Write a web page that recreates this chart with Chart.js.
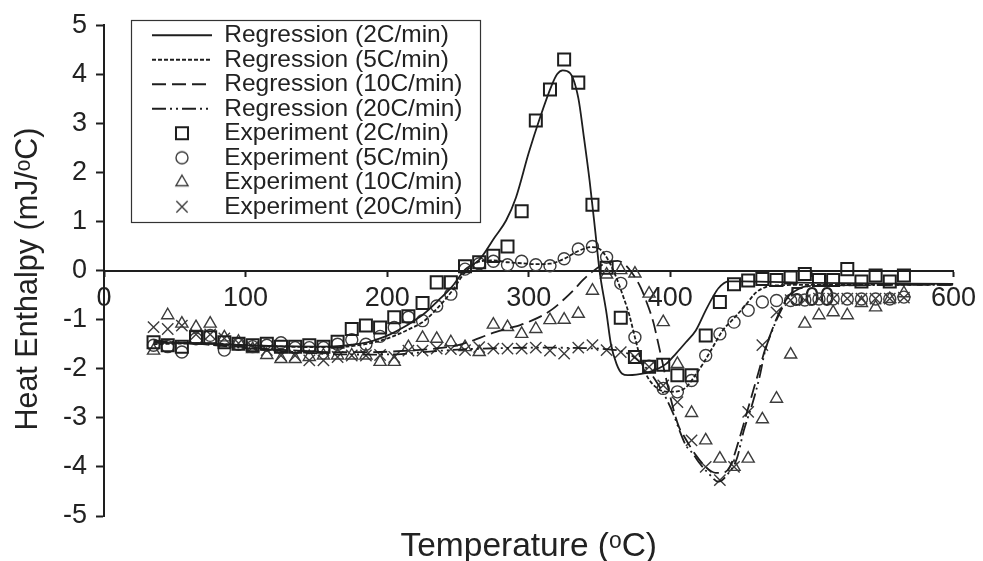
<!DOCTYPE html>
<html>
<head>
<meta charset="utf-8">
<script src="https://cdn.jsdelivr.net/npm/chart.js@4.4.1/dist/chart.umd.min.js"></script>
<style>
  html, body { margin: 0; padding: 0; background: #fff; }
  #wrap { width: 983px; height: 561px; }
</style>
</head>
<body>
<div id="wrap"><canvas id="c" width="983" height="561"></canvas></div>
<script>
// Temperatures (°C) at which the calorimeter readings were taken
const expTemps = [35, 45, 55, 65, 75, 85, 95, 105, 115, 125,
  135, 145, 155, 165, 175, 185, 195, 205, 215, 225,
  235, 245, 255, 265, 275, 285, 295, 305, 315, 325,
  335, 345, 355, 365, 375, 385, 395, 405, 415, 425,
  435, 445, 455, 465, 475, 485, 495, 505, 515, 525,
  535, 545, 555, 565];

// Measured heat enthalpy (mJ/°C) per heating rate
const exp2C = [-1.46, -1.52, -1.55, -1.36, -1.36, -1.46, -1.49, -1.52, -1.49, -1.55,
  -1.55, -1.52, -1.55, -1.45, -1.19, -1.12, -1.16, -0.95, -0.93, -0.66,
  -0.24, -0.24, 0.09, 0.17, 0.30, 0.49, 1.21, 3.06, 3.69, 4.30,
  3.83, 1.34, 0.06, -0.96, -1.76, -1.96, -1.92, -2.13, -2.13, -1.32,
  -0.64, -0.28, -0.20, -0.17, -0.19, -0.14, -0.07, -0.19, -0.19, 0.03,
  -0.22, -0.10, -0.22, -0.10];
const exp5C = [-1.52, -1.55, -1.66, -1.39, -1.32, -1.62, -1.50, -1.55, -1.52, -1.47,
  -1.57, -1.57, -1.57, -1.50, -1.41, -1.50, -1.34, -1.16, -0.95, -1.02,
  -0.72, -0.48, 0.03, 0.14, 0.19, 0.12, 0.19, 0.12, 0.10, 0.24,
  0.44, 0.49, 0.27, -0.26, -1.36, -1.95, -2.40, -2.47, -2.24, -1.73,
  -1.29, -1.05, -0.81, -0.64, -0.61, -0.61, -0.60, -0.58, -0.58, -0.58,
  -0.58, -0.58, -0.58, -0.54];
const exp10C = [-1.63, -0.91, -1.08, -1.15, -1.08, -1.36, -1.45, -1.60, -1.72, -1.80,
  -1.80, -1.76, -1.73, -1.73, -1.73, -1.73, -1.86, -1.86, -1.56, -1.37,
  -1.39, -1.46, -1.56, -1.66, -1.10, -1.15, -1.29, -1.19, -1.01, -1.00,
  -0.88, -0.41, -0.08, 0.01, -0.06, -0.47, -1.05, -1.90, -2.90, -3.46,
  -3.83, -4.00, -3.83, -3.03, -2.61, -1.71, -1.08, -0.91, -0.85, -0.91,
  -0.66, -0.75, -0.58, -0.46];
const exp20C = [-1.15, -1.19, -1.12, -1.30, -1.30, -1.38, -1.48, -1.56, -1.62, -1.73,
  -1.73, -1.83, -1.83, -1.76, -1.73, -1.73, -1.72, -1.76, -1.63, -1.63,
  -1.59, -1.60, -1.62, -1.56, -1.59, -1.59, -1.59, -1.57, -1.63, -1.69,
  -1.57, -1.52, -1.62, -1.66, -1.76, -1.96, -2.34, -2.68, -3.46, -4.00,
  -4.27, -4.00, -2.88, -1.52, -0.85, -0.60, -0.60, -0.57, -0.57, -0.57,
  -0.57, -0.57, -0.57, -0.55];

// Regression curves: temperature knots and fitted enthalpy
const reg2CT = [35, 60, 90, 120, 150, 165, 175, 186, 195, 202, 210, 218, 226, 236, 246, 255, 265, 276, 284, 291, 300, 308, 316, 320, 324, 329, 335, 339, 343, 347, 350, 355, 358, 362, 366, 370, 376, 387, 397, 404, 411, 418, 425, 430, 434, 441, 450, 500, 600];
const reg2CV = [-1.47, -1.48, -1.51, -1.54, -1.55, -1.54, -1.51, -1.46, -1.38, -1.30, -1.18, -1.04, -0.88, -0.61, -0.32, 0.02, 0.22, 0.68, 1.02, 1.49, 2.40, 3.12, 3.76, 4.00, 4.08, 4.03, 3.52, 2.71, 1.83, 0.80, 0.00, -0.88, -1.49, -1.90, -2.10, -2.13, -2.12, -2.05, -1.90, -1.69, -1.46, -1.22, -0.81, -0.54, -0.36, -0.22, -0.22, -0.25, -0.27];

const reg5CT = [35, 70, 100, 130, 160, 180, 195, 205, 215, 226, 236, 246, 254, 260, 266, 275, 285, 295, 305, 315, 325, 335, 345, 351, 357, 362, 367, 371, 375, 379, 383, 390, 398, 405, 411, 416, 423, 430, 437, 444, 453, 460, 467, 476, 500, 600];
const reg5CV = [-1.50, -1.48, -1.52, -1.55, -1.56, -1.52, -1.43, -1.33, -1.20, -1.03, -0.75, -0.41, -0.07, 0.10, 0.19, 0.21, 0.17, 0.15, 0.13, 0.14, 0.24, 0.40, 0.48, 0.42, 0.17, -0.15, -0.55, -0.90, -1.36, -1.80, -2.12, -2.38, -2.47, -2.46, -2.38, -2.20, -1.90, -1.56, -1.22, -1.00, -0.71, -0.46, -0.34, -0.30, -0.29, -0.28];

const reg10CT = [35, 70, 100, 130, 160, 190, 220, 240, 250, 261, 270, 277, 285, 294, 302, 310, 317, 324, 331, 338, 345, 352, 358, 363, 368, 373, 379, 384, 388, 392, 397, 403, 406, 410, 418, 425, 432, 437, 442, 448, 455, 462, 467, 472, 477, 484, 491, 500, 600];
const reg10CV = [-1.45, -1.50, -1.56, -1.62, -1.66, -1.66, -1.62, -1.57, -1.52, -1.42, -1.32, -1.25, -1.18, -1.11, -1.02, -0.91, -0.78, -0.61, -0.42, -0.20, -0.02, 0.12, 0.19, 0.20, 0.12, -0.05, -0.34, -0.70, -1.05, -1.55, -2.20, -2.91, -3.18, -3.39, -3.76, -4.00, -4.12, -4.12, -4.00, -3.50, -2.80, -2.10, -1.60, -1.20, -0.85, -0.50, -0.36, -0.31, -0.29];

const reg20CT = [35, 70, 100, 130, 160, 190, 210, 230, 250, 280, 310, 340, 355, 365, 372, 378, 385, 391, 397, 402, 406, 411, 416, 420, 427, 434, 441, 447, 452, 458, 463, 467, 472, 477, 484, 491, 500, 600];
const reg20CV = [-1.42, -1.50, -1.58, -1.65, -1.70, -1.71, -1.70, -1.65, -1.61, -1.58, -1.57, -1.58, -1.60, -1.64, -1.72, -1.85, -2.05, -2.30, -2.60, -2.91, -3.22, -3.56, -3.73, -3.90, -4.13, -4.30, -4.13, -3.83, -3.25, -2.71, -2.17, -1.63, -1.22, -0.88, -0.52, -0.37, -0.31, -0.29];

// Axis ticks
const xTicks = [0, 100, 200, 300, 400, 500, 600];
const yTicks = [-5, -4, -3, -2, -1, 0, 1, 2, 3, 4, 5];

const seriesNames = ['Regression (2C/min)', 'Regression (5C/min)', 'Regression (10C/min)', 'Regression (20C/min)',
  'Experiment (2C/min)', 'Experiment (5C/min)', 'Experiment (10C/min)', 'Experiment (20C/min)'];

const FONT = "'Liberation Sans', Arial, Helvetica, 'DejaVu Sans', sans-serif";
const INK = '#1e1e1e';
const GREY = '#3c3c3c';

const pairs = (xs, ys) => xs.map((t, i) => ({ x: t, y: ys[i] }));

const dashes = [[], [4, 2], [14, 6], [14, 4, 2, 4, 2, 4]];
const regT = [reg2CT, reg5CT, reg10CT, reg20CT];
const regV = [reg2CV, reg5CV, reg10CV, reg20CV];

const markers = [
  { style: 'rect', radius: 8.5, color: INK, width: 2 },
  { style: 'circle', radius: 6, color: GREY, width: 1.4 },
  { style: 'triangle', radius: 7, color: GREY, width: 1.4 },
  { style: 'crossRot', radius: 8, color: GREY, width: 1.4 }
];
const expV = [exp2C, exp5C, exp10C, exp20C];

const datasets = [];
for (let k = 0; k < 4; k++) {
  datasets.push({
    label: seriesNames[k],
    data: pairs(regT[k], regV[k]),
    showLine: true,
    borderColor: INK,
    borderWidth: 1.8,
    borderDash: dashes[k],
    pointRadius: 0,
    pointHoverRadius: 0,
    cubicInterpolationMode: 'monotone',
    fill: false
  });
}
for (let k = 0; k < 4; k++) {
  const m = markers[k];
  datasets.push({
    label: seriesNames[4 + k],
    data: pairs(expTemps, expV[k]),
    showLine: false,
    pointStyle: m.style,
    pointRadius: m.radius,
    pointHoverRadius: m.radius,
    pointBorderWidth: m.width,
    pointBorderColor: m.color,
    pointBackgroundColor: 'rgba(0,0,0,0)'
  });
}

// Legend symbols rendered to small canvases so lines and markers share one legend
function lineIcon(dash) {
  const c = document.createElement('canvas');
  c.width = 60; c.height = 8;
  const g = c.getContext('2d');
  g.strokeStyle = INK; g.lineWidth = 2.2; g.setLineDash(dash);
  g.beginPath(); g.moveTo(0, 4); g.lineTo(60, 4); g.stroke();
  return c;
}
function markIcon(m) {
  const c = document.createElement('canvas');
  c.width = 24; c.height = 24;
  const g = c.getContext('2d');
  g.strokeStyle = m.color; g.fillStyle = 'rgba(0,0,0,0)'; g.lineWidth = m.width;
  Chart.helpers.drawPoint(g, { pointStyle: m.style, radius: m.radius, borderWidth: m.width, rotation: 0 }, 12, 12);
  return c;
}
const legendIcons = dashes.map(lineIcon).concat(markers.map(markIcon));

const LEGEND_FONT = 24.5, LEGEND_PAD = 0;

// Places the legend in the upper-left of the plot and draws its frame
const legendFrame = {
  id: 'legendFrame',
  beforeDraw(chart) {
    const lg = chart.legend;
    if (!lg) return;
    lg.left = 152; lg.top = 23;
    lg.right = lg.left + lg.width; lg.bottom = lg.top + 1000;
    const rows = lg.legendItems.length;
    const x0 = lg.left - 21, y0 = lg.top - 3;
    const x1 = lg.left + lg.width + 7;
    const y1 = lg.top + LEGEND_PAD + rows * (LEGEND_FONT + LEGEND_PAD) + 3;
    const ctx = chart.ctx;
    ctx.save();
    ctx.strokeStyle = '#333';
    ctx.lineWidth = 1.2;
    ctx.strokeRect(Math.round(x0) + 0.5, Math.round(y0) + 0.5, Math.round(x1 - x0), Math.round(y1 - y0));
    ctx.restore();
  }
};

new Chart(document.getElementById('c'), {
  type: 'scatter',
  data: { datasets },
  plugins: [legendFrame],
  options: {
    responsive: false,
    animation: false,
    devicePixelRatio: 1,
    layout: { padding: { left: 0, right: 28, top: 25, bottom: 0 } },
    plugins: {
      tooltip: { enabled: false },
      legend: {
        position: 'chartArea',
        align: 'start',
        labels: {
          usePointStyle: true,
          pointStyleWidth: 60,
          padding: LEGEND_PAD,
          color: '#222',
          font: { family: FONT, size: LEGEND_FONT },
          generateLabels: (chart) => chart.data.datasets.map((ds, i) => ({
            text: ds.label,
            datasetIndex: i,
            pointStyle: legendIcons[i],
            fontColor: '#222',
            fillStyle: 'rgba(0,0,0,0)',
            strokeStyle: 'rgba(0,0,0,0)',
            lineWidth: 0,
            hidden: false
          }))
        }
      }
    },
    scales: {
      x: {
        type: 'linear',
        position: { y: 0 },
        min: 0, max: 600,
        afterBuildTicks: (s) => { s.ticks = xTicks.map(v => ({ value: v })); },
        ticks: { color: '#222', font: { family: FONT, size: 27 }, padding: 7, maxRotation: 0 },
        grid: { display: true, drawOnChartArea: false, drawTicks: true, tickLength: 5, tickWidth: 2, tickColor: INK },
        border: { display: true, color: INK, width: 2 }
      },
      x2: {
        type: 'linear',
        position: 'bottom',
        min: 0, max: 600,
        grid: { display: false },
        border: { display: false },
        ticks: { display: false },
        title: { display: true, text: 'Temperature (ᵒC)', color: '#222', font: { family: FONT, size: 33.5, lineHeight: 0.82 }, padding: { top: 0, bottom: 0 } },
        afterFit: (s) => { s.height = 45; }
      },
      y: {
        type: 'linear',
        position: 'left',
        min: -5, max: 5,
        afterBuildTicks: (s) => { s.ticks = yTicks.map(v => ({ value: v })); },
        ticks: { color: '#222', font: { family: FONT, size: 27 }, padding: 9 },
        grid: { display: true, drawOnChartArea: false, drawTicks: true, tickLength: 8, tickWidth: 2, tickColor: INK },
        border: { display: true, color: INK, width: 2 },
        title: { display: true, text: 'Heat Enthalpy (mJ/ᵒC)  ', color: '#222', font: { family: FONT, size: 30.5 }, padding: { top: 10, bottom: 0 } },
        afterFit: (s) => { s.width = 104; }
      }
    }
  }
});
</script>
</body>
</html>
